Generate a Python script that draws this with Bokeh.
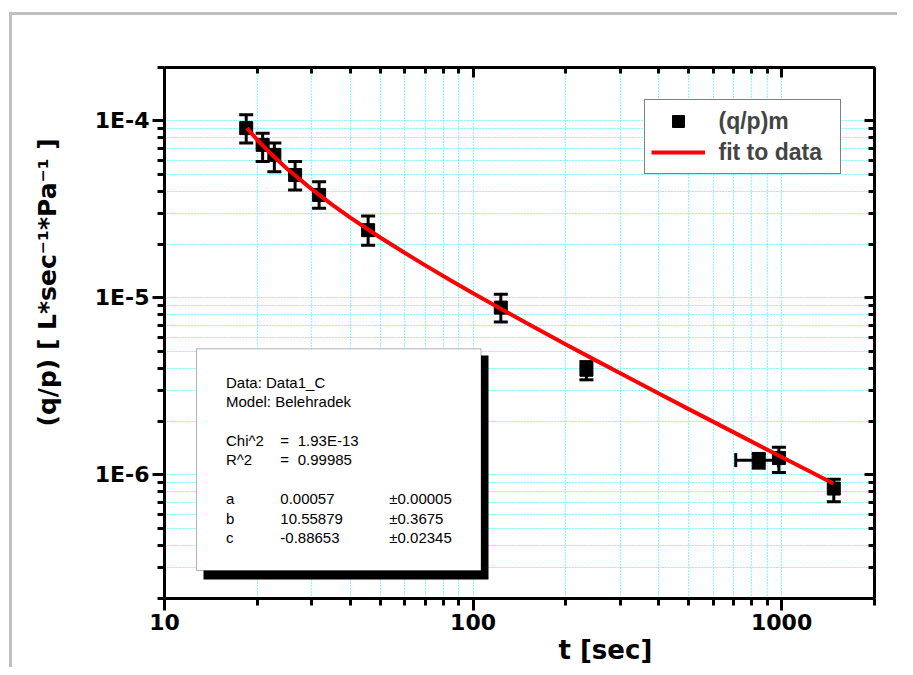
import math
from bokeh.plotting import figure
from bokeh.models import (ColumnDataSource, Whisker, TeeHead, FixedTicker, LogAxis,
                          CustomJSTickFormatter, BoxAnnotation, Label, Legend, LegendItem, Title)
from bokeh.embed import file_html
from bokeh.resources import INLINE

# ---- data ----
t = [18.4, 20.8, 22.7, 26.5, 31.7, 45.7, 123, 233, 843, 980, 1476]
qp = [9.09e-5, 7.31e-5, 6.42e-5, 4.94e-5, 3.81e-5, 2.41e-5, 8.8e-6, 3.92e-6, 1.21e-6, 1.243e-6, 8.36e-7]
qp_lo = [7.48e-5, 5.88e-5, 5.16e-5, 4.06e-5, 3.20e-5, 1.98e-5, 7.3e-6, 3.44e-6, 1.09e-6, 1.03e-6, 7.03e-7]
qp_hi = [1.08e-4, 8.51e-5, 7.48e-5, 5.88e-5, 4.53e-5, 2.90e-5, 1.047e-5, 4.36e-6, 1.32e-6, 1.43e-6, 9.45e-7]

# horizontal error bar (only one point shows it)
tx = [843]
tx_lo = [710]
tx_hi = [976]
tx_qp = [1.21e-6]

# fit curve
fit_t = [18.5, 20, 22, 25, 30, 35, 40, 50, 60, 70, 85, 100, 125, 150, 200, 250, 300,
         400, 500, 700, 1000, 1200, 1470]
fit_qp = [9.08e-5, 7.79e-5, 6.57e-5, 5.34e-5, 4.11e-5, 3.35e-5, 2.84e-5, 2.19e-5, 1.795e-5,
          1.524e-5, 1.248e-5, 1.061e-5, 8.53e-6, 7.16e-6, 5.45e-6, 4.43e-6, 3.75e-6,
          2.88e-6, 2.35e-6, 1.736e-6, 1.26e-6, 1.07e-6, 8.93e-7]

x_major = [10, 100, 1000]
x_minor = [m * 10 ** e for e in (1, 2, 3) for m in range(2, 10) if m * 10 ** e <= 2000]
y_major = [1e-6, 1e-5, 1e-4]
y_minor = [m * 10.0 ** e for e in (-7, -6, -5, -4) for m in range(2, 10)
           if 1.9e-7 <= m * 10.0 ** e <= 2.1e-4]

# fit report: (name, "=" or None, value, error)
stats_lines = [
    ("Data: Data1_C", None, None, None),
    ("Model: Belehradek", None, None, None),
    ("Chi^2", "=", "1.93E-13", None),
    ("R^2", "=", "0.99985", None),
    ("a", None, "0.00057", "\u00b10.00005"),
    ("b", None, "10.55879", "\u00b10.3675"),
    ("c", None, "-0.88653", "\u00b10.02345"),
]

TICK_FONT = "DejaVu Sans"
TXT_FONT = "Liberation Sans"

p = figure(width=897, height=667, x_axis_type="log", y_axis_type="log",
           x_range=(10, 2000), y_range=(2e-7, 2e-4),
           output_backend="svg", toolbar_location=None,
           min_border_left=164, min_border_right=23, min_border_top=67, min_border_bottom=69)
p.outline_line_color = None
p.background_fill_color = "white"
p.border_fill_color = None
p.styles = {"background": "linear-gradient(#c0c0c0, #c0c0c0) 9px 12px / 3px 100% no-repeat, "
                          "linear-gradient(#c0c0c0, #c0c0c0) 9px 12px / 100% 3px no-repeat, #ffffff"}

xt = FixedTicker(ticks=x_major, minor_ticks=x_minor)
yt = FixedTicker(ticks=y_major, minor_ticks=y_minor)
xfmt = CustomJSTickFormatter(code="return tick.toFixed(0);")
yfmt = CustomJSTickFormatter(code="return '1E' + Math.round(Math.log10(tick));")

def style_axis(ax, inward, show_labels):
    ax.axis_line_width = 3
    ax.axis_line_color = "black"
    ax.major_tick_line_width = 3
    ax.minor_tick_line_width = 3
    ax.major_tick_line_color = "black"
    ax.minor_tick_line_color = "black"
    if inward:
        ax.major_tick_in, ax.major_tick_out = 10, 0
        ax.minor_tick_in, ax.minor_tick_out = 6, 0
    else:
        ax.major_tick_in, ax.major_tick_out = 0, 12
        ax.minor_tick_in, ax.minor_tick_out = 0, 7
    if show_labels:
        ax.major_label_text_font = TICK_FONT
        ax.major_label_text_font_style = "bold"
        ax.major_label_text_font_size = "22px"
        ax.major_label_text_color = "black"
        ax.major_label_standoff = 3
    else:
        ax.major_label_text_font_size = "0px"
        ax.major_label_text_alpha = 0

xa = p.xaxis[0]
ya = p.yaxis[0]
xa.ticker = xt
ya.ticker = yt
xa.formatter = xfmt
ya.formatter = yfmt
style_axis(xa, False, True)
style_axis(ya, False, True)

top = LogAxis(ticker=xt, formatter=xfmt)
right = LogAxis(ticker=yt, formatter=yfmt)
style_axis(top, True, False)
style_axis(right, True, False)
p.add_layout(top, "above")
p.add_layout(right, "right")

for g in (p.xgrid[0], p.ygrid[0]):
    g.grid_line_color = "#00FFFF"
    g.grid_line_dash = "1 2"
    g.grid_line_width = 1
    g.minor_grid_line_color = "#00FFFF"
    g.minor_grid_line_dash = "1 2"
    g.minor_grid_line_width = 1
p.xgrid[0].ticker = xt
p.ygrid[0].ticker = yt

src = ColumnDataSource(dict(t=t, qp=qp, lo=qp_lo, hi=qp_hi))
srcx = ColumnDataSource(dict(t=tx, qp=tx_qp, lo=tx_lo, hi=tx_hi))

def tee():
    return TeeHead(size=14, line_width=3, line_color="black")

p.add_layout(Whisker(source=src, base="t", lower="lo", upper="hi", dimension="height",
                     line_width=3, line_color="black", upper_head=tee(), lower_head=tee()))
p.add_layout(Whisker(source=srcx, base="qp", lower="lo", upper="hi", dimension="width",
                     line_width=3, line_color="black", upper_head=tee(), lower_head=tee()))

sq = p.scatter("t", "qp", source=src, marker="square", size=13, color="black")
fit = p.line(fit_t, fit_qp, line_color="#FF0000", line_width=4)

# stats box shadow and box (screen units relative to the frame)
p.add_layout(BoxAnnotation(left=39, right=324, top=243, bottom=19,
                           left_units="screen", right_units="screen",
                           top_units="screen", bottom_units="screen",
                           fill_color="black", fill_alpha=1, line_color=None))
p.add_layout(BoxAnnotation(left=32, right=316.5, top=249.7, bottom=28,
                           left_units="screen", right_units="screen",
                           top_units="screen", bottom_units="screen",
                           fill_color="white", fill_alpha=1, line_color="black", line_width=1))

row_y = [216.3, 197, 158, 139, 99.7, 79.7, 60.7]
for (a, eq, b, c), yy in zip(stats_lines, row_y):
    cols = [(a, 61.5), (eq, 115.8), (b, 133.2 if eq else 115.8), (c, 224.8)]
    for txt, xx in cols:
        if txt is None:
            continue
        p.add_layout(Label(x=xx, y=yy, x_units="screen", y_units="screen", text=txt,
                           text_font=TXT_FONT, text_font_size="15px", text_color="black",
                           text_baseline="middle", text_align="left"))

# axis titles
p.add_layout(Title(text="t [sec]", align="left", offset=394, standoff=0,
                   text_font=TICK_FONT, text_font_style="bold", text_font_size="26px",
                   text_color="black"), "below")
p.add_layout(Title(text="(q/p) [ L*sec\u207b\u00b9*Pa\u207b\u00b9 ]", align="left", offset=172,
                   standoff=59, text_font=TICK_FONT, text_font_style="bold",
                   text_font_size="25px", text_color="black"), "left")

legend = Legend(items=[LegendItem(label="(q/p)m", renderers=[sq]),
                       LegendItem(label="fit to data", renderers=[fit])],
                location=(479.5, 424))
legend.label_text_font = TXT_FONT
legend.label_text_font_style = "bold"
legend.label_text_font_size = "23px"
legend.label_text_baseline = "middle"
legend.glyph_width = 54
legend.glyph_height = 30
legend.label_height = 30
legend.label_width = 115
legend.label_standoff = 14
legend.padding = 6
legend.spacing = 1
legend.margin = 0
legend.border_line_color = "black"
legend.border_line_width = 1
legend.background_fill_color = "white"
legend.background_fill_alpha = 1
p.add_layout(legend)

open("out.html", "w").write(file_html(p, INLINE))
